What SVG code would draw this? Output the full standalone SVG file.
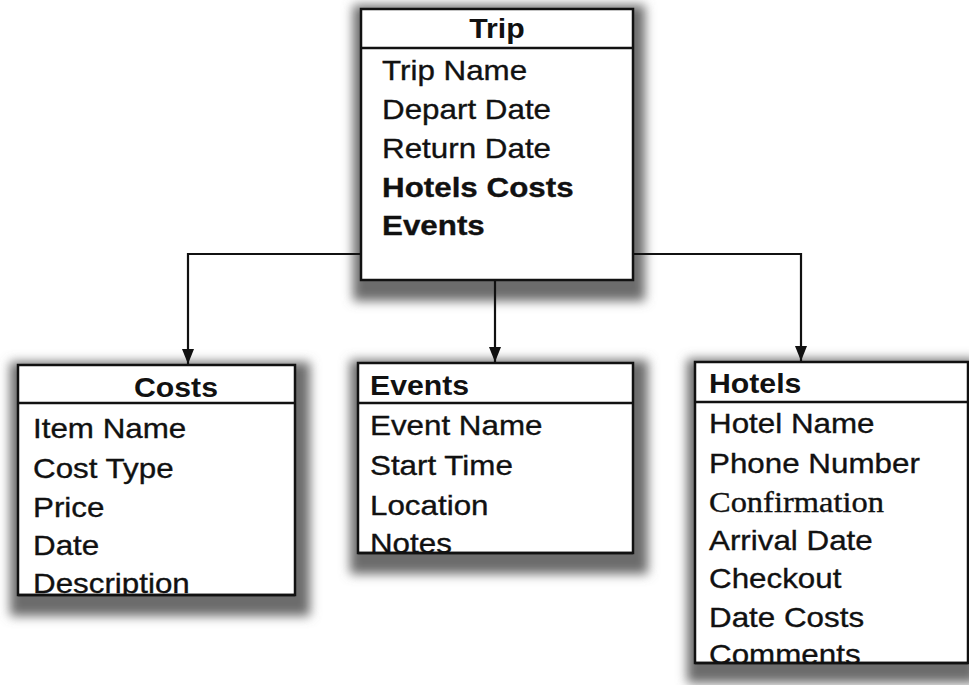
<svg xmlns="http://www.w3.org/2000/svg" width="969" height="685" viewBox="0 0 969 685">
<defs>
<style>
.box{fill:#fff;stroke:#111;stroke-width:2.5}
.div{stroke:#111;stroke-width:2.5}
.sh{fill:#6c6c6c;filter:url(#blur)}
.t{font-family:"Liberation Sans",Arial,sans-serif;font-size:28px;fill:#111;stroke:#111;stroke-width:0.35}
.b{font-weight:bold}
.h{font-family:"Liberation Sans",Arial,sans-serif;font-size:28px;font-weight:bold;fill:#111}
.s{font-family:"Liberation Serif","Times New Roman",serif;font-size:29px;fill:#111;stroke:#111;stroke-width:0.35}
.c{fill:none;stroke:#111;stroke-width:2.2}
</style>
<filter id="blur" x="-20%" y="-20%" width="140%" height="140%"><feGaussianBlur stdDeviation="5.5"/></filter>
<marker id="arr" markerUnits="userSpaceOnUse" markerWidth="16" markerHeight="14" refX="15" refY="7" orient="auto" viewBox="0 0 16 14">
<path d="M0,1 L15,7 L0,13 Z" fill="#111"/>
</marker>
<clipPath id="cc"><rect x="18" y="365" width="277" height="230"/></clipPath>
<clipPath id="ce"><rect x="358" y="363" width="275" height="190"/></clipPath>
<clipPath id="ch"><rect x="695" y="362" width="273" height="301"/></clipPath>
</defs>
<rect width="969" height="685" fill="#fff"/>

<g id="trip">
<rect class="sh" x="353" y="5" width="292" height="296"/>
<rect class="box" x="361" y="9" width="272" height="271"/>
<line class="div" x1="361" y1="48" x2="633" y2="48"/>
<text class="h" x="497" y="38" text-anchor="middle" transform="matrix(1.08,0,0,1,-39.76,0)">Trip</text>
<g transform="matrix(1.12,0,0,1,-45.84,0)">
<text class="t" x="382" y="80">Trip Name</text>
<text class="t" x="382" y="119">Depart Date</text>
<text class="t" x="382" y="158">Return Date</text>
<text class="t b" x="382" y="197">Hotels Costs</text>
<text class="t b" x="382" y="235">Events</text>
</g>
</g>

<g id="costs">
<rect class="sh" x="10" y="362" width="300" height="254"/>
<rect class="box" x="18" y="365" width="277" height="230"/>
<line class="div" x1="18" y1="403" x2="295" y2="403"/>
<text class="h" x="176" y="397" text-anchor="middle" transform="matrix(1.08,0,0,1,-14.08,0)">Costs</text>
<g clip-path="url(#cc)">
<g transform="matrix(1.12,0,0,1,-3.96,0)">
<text class="t" x="33" y="438">Item Name</text>
<text class="t" x="33" y="478">Cost Type</text>
<text class="t" x="33" y="517">Price</text>
<text class="t" x="33" y="555">Date</text>
<text class="t" x="33" y="593">Description</text>
</g>
</g>
<line class="div" x1="18" y1="595" x2="295" y2="595"/>
</g>

<g id="events">
<rect class="sh" x="350" y="360" width="298" height="214"/>
<rect class="box" x="358" y="363" width="275" height="190"/>
<line class="div" x1="358" y1="403" x2="633" y2="403"/>
<text class="h" x="370" y="395" transform="matrix(1.08,0,0,1,-29.6,0)">Events</text>
<g clip-path="url(#ce)">
<g transform="matrix(1.12,0,0,1,-44.4,0)">
<text class="t" x="370" y="435">Event Name</text>
<text class="t" x="370" y="475">Start Time</text>
<text class="t" x="370" y="515">Location</text>
<text class="t" x="370" y="553">Notes</text>
</g>
</g>
<line class="div" x1="358" y1="553" x2="633" y2="553"/>
</g>

<g id="hotels">
<rect class="sh" x="687" y="359" width="290" height="324"/>
<rect class="box" x="695" y="362" width="273" height="301"/>
<line class="div" x1="695" y1="402" x2="968" y2="402"/>
<text class="h" x="709" y="393" transform="matrix(1.08,0,0,1,-56.72,0)">Hotels</text>
<g clip-path="url(#ch)">
<g transform="matrix(1.12,0,0,1,-85.08,0)">
<text class="t" x="709" y="433">Hotel Name</text>
<text class="t" x="709" y="473">Phone Number</text>
<text class="s" x="709" y="512">Confirmation</text>
<text class="t" x="709" y="550">Arrival Date</text>
<text class="t" x="709" y="588">Checkout</text>
<text class="t" x="709" y="627">Date Costs</text>
<text class="t" x="709" y="664">Comments</text>
</g>
</g>
<line class="div" x1="695" y1="663" x2="968" y2="663"/>
</g>

<g id="connectors">
<path class="c" d="M361,254 H188 V364" marker-end="url(#arr)"/>
<path class="c" d="M495,281 V362" marker-end="url(#arr)"/>
<path class="c" d="M633,254 H801 V361" marker-end="url(#arr)"/>
</g>
</svg>
